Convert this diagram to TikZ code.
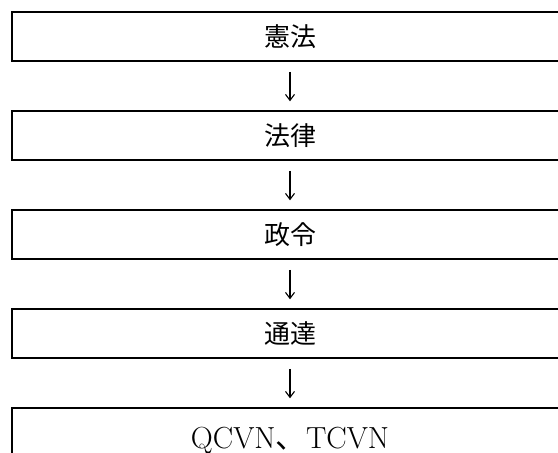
\documentclass[tikz,border=0pt]{standalone}
\usepackage{fontspec}
\newfontfamily\jp{Noto Sans CJK JP}
\usetikzlibrary{arrows.meta}
\tikzset{
  stagebox/.style={draw, line width=1.5pt, minimum width=556pt, minimum height=49pt, inner sep=0pt, font=\fontsize{26}{28}\selectfont},
  downarr/.style={line width=1.1pt, -{Straight Barb[length=6pt,width=9pt,line width=1.1pt]}, shorten <=10pt, shorten >=9pt}
}
\begin{document}
\begin{tikzpicture}[x=1pt,y=-1pt]
\useasboundingbox (0,0) rectangle (558,453);
\fill[white] (0,0) rectangle (558,453);
\clip (0,0) rectangle (558,453);
\node[stagebox] (b1) at (290,36.5) {\jp 憲法};
\node[stagebox] (b2) at (290,135.5) {\jp 法律};
\node[stagebox] (b3) at (290,234.5) {\jp 政令};
\node[stagebox] (b4) at (290,333.5) {\jp 通達};
\node[stagebox] (b5) at (290,432.5) {};
\node[font=\fontsize{30.5}{32}\selectfont, anchor=base] (t5) at (290,448) {QCVN{\jp 、}TCVN};
\draw[downarr] (b1) -- (b2);
\draw[downarr] (b2) -- (b3);
\draw[downarr] (b3) -- (b4);
\draw[downarr] (b4) -- (b5);
\end{tikzpicture}
\end{document}
